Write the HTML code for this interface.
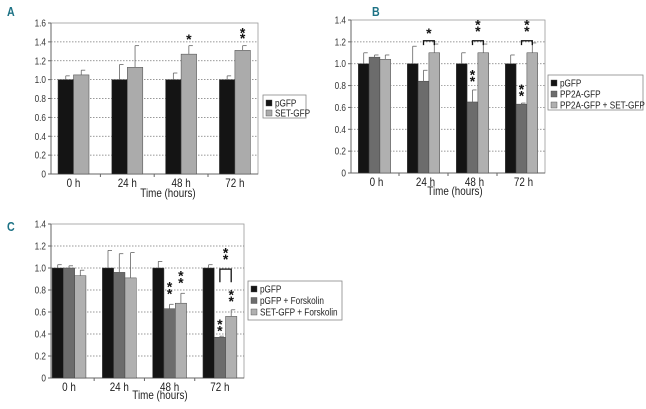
<!DOCTYPE html>
<html><head><meta charset="utf-8"><style>
html,body{margin:0;padding:0;background:#fff;}
svg{display:block;font-family:"Liberation Sans",sans-serif;}
</style></head><body>
<svg id="s" width="646" height="409" viewBox="0 0 646 409"></svg>
<script>
const categories=["0 h","24 h","48 h","72 h"];
// Panel A
const aPGFP=[1.0,1.0,1.0,1.0], aPGFPErr=[1.04,1.16,1.07,1.04];
const aSET=[1.05,1.13,1.27,1.31], aSETErr=[1.10,1.36,1.36,1.36];
const aTicks=[0,0.2,0.4,0.6,0.8,1.0,1.2,1.4,1.6];
// Panel B
const bPGFP=[1,1,1,1], bPGFPErr=[1.10,1.16,1.10,1.08];
const bPP2A=[1.06,0.84,0.65,0.63], bPP2AErr=[1.08,0.94,0.76,0.64];
const bCombo=[1.04,1.10,1.10,1.10], bComboErr=[1.08,1.18,1.18,1.19];
const bTicks=[0,0.2,0.4,0.6,0.8,1.0,1.2,1.4];
// Panel C
const cPGFP=[1,1,1,1], cPGFPErr=[1.03,1.16,1.06,1.03];
const cPF=[1.0,0.96,0.63,0.37], cPFErr=[1.02,1.13,0.67,0.38];
const cSF=[0.93,0.91,0.68,0.56], cSFErr=[0.98,1.14,0.77,0.62];
const cTicks=[0,0.2,0.4,0.6,0.8,1.0,1.2,1.4];

const NS="http://www.w3.org/2000/svg", S=document.getElementById('s');
function el(t,a,p){const e=document.createElementNS(NS,t);for(const k in a)e.setAttribute(k,a[k]);(p||S).appendChild(e);return e;}
function txt(x,y,s,a,p){const e=el('text',Object.assign({x:x,y:y},a),p);e.textContent=s;return e;}

function panel(cfg){
  const g=el('g',{});
  
  
  const y=v=>cfg.y0-(v/cfg.max)*(cfg.y0-cfg.yTop);
  const cx=i=>cfg.c0+i*cfg.step;
  el('rect',{x:cfg.left,y:cfg.yTop,width:cfg.right-cfg.left,height:cfg.y0-cfg.yTop,fill:'#fff',stroke:'#999','stroke-width':0.8},g);
  cfg.ticks.forEach(t=>{
    if(t>0&&t<cfg.max){const l=el('line',{x1:cfg.left,x2:cfg.right,y1:y(t),y2:y(t),stroke:'#777','stroke-width':0.7,'stroke-dasharray':'1.5,1.5'},g);
      }
    el('line',{x1:cfg.left-3,x2:cfg.left,y1:y(t),y2:y(t),stroke:'#666'},g);
    const tl=txt(cfg.left-5,y(t)+3.5,t===0?'0':t.toFixed(1),{'font-size':10,'text-anchor':'end',fill:'#333','class':'cond'},g);
    
  });
  el('line',{x1:cfg.left,x2:cfg.left,y1:cfg.yTop,y2:cfg.y0,stroke:'#666'},g);
  el('line',{x1:cfg.left,x2:cfg.right,y1:cfg.y0,y2:cfg.y0,stroke:'#666'},g);
  const n=cfg.series.length, bw=cfg.bw;
  categories.forEach((c,i)=>{
    const xl=txt(cx(i)+(cfg.labShift||0),cfg.y0+13,c,{'font-size':12,'text-anchor':'middle',fill:'#222','class':'cond'},g);
    
    if(i>0){el('line',{x1:cx(i)-cfg.step/2,x2:cx(i)-cfg.step/2,y1:cfg.y0,y2:cfg.y0+3,stroke:'#666'},g);}
    cfg.series.forEach((s,k)=>{
      const x=cx(i)-n*bw/2+k*bw;
      const r=el('rect',{x:x,y:y(s.v[i]),width:bw,height:cfg.y0-y(s.v[i]),fill:s.c,stroke:'#444','stroke-width':0.5},g);
      
      el('line',{x1:x+bw/2,x2:x+bw/2,y1:y(s.v[i]),y2:y(s.e[i]),stroke:'#666','stroke-width':0.8},g);
      el('line',{x1:x+bw/2,x2:x+bw/2+4,y1:y(s.e[i]),y2:y(s.e[i]),stroke:'#666','stroke-width':0.8},g);
    });
  });
  (cfg.stars||[]).forEach(a=>{
    const x=cx(a[0])-n*bw/2+a[1]*bw+bw/2;
    a[2].forEach(v=>{const st=txt(x,y(v)+5,'*',{'font-size':14,'text-anchor':'middle',fill:'#111','font-weight':'bold'},g);
      });
  });
  (cfg.brackets||[]).forEach(b=>{
    const x1=cx(b[0])-n*bw/2+b[1]*bw+bw/2, x2=cx(b[0])-n*bw/2+b[2]*bw+bw/2;
    const p=el('path',{d:`M${x1},${y(b[4])}V${y(b[3])}H${x2}V${y(b[4])}`,fill:'none',stroke:'#111','stroke-width':1.3},g);
    
  });
  const xt=txt(cfg.tx,cfg.ty,'Time (hours)',{'font-size':12,'text-anchor':'middle',fill:'#222','class':'cond'},g);
  
  const L=cfg.leg, lg=el('g',{},g);
  
  el('rect',{x:L[0],y:L[1],width:L[2],height:L[3],fill:'#fff',stroke:'#888','stroke-width':0.8},lg);
  cfg.series.forEach((s,k)=>{
    const yy=L[1]+5+k*L[4];
    el('rect',{x:L[0]+3,y:yy,width:6,height:6,fill:s.c,stroke:'#444','stroke-width':0.4},lg);
    const t=txt(L[0]+12,yy+6.5,s.label,{'font-size':10,fill:'#222','class':'cond'},lg);
    
  });
  const pl=txt(cfg.pl[0],cfg.pl[1],cfg.letter,{'font-size':13,'font-weight':'bold',fill:'#1d7285','class':'cond'},g);
  
}
const K='#141414', D='#6c6c6c', Lg='#b0b0b0';
panel({name:'panel-a',letter:'A',pl:[7,16],left:51,right:258,yTop:23,y0:174,max:1.6,ticks:aTicks,c0:73.5,step:53.8,bw:15.5,
  series:[{key:'pgfp',v:aPGFP,e:aPGFPErr,c:K,label:'pGFP'},{key:'set-gfp',v:aSET,e:aSETErr,c:'#ababab',label:'SET-GFP'}],
  stars:[[2,1,[1.43]],[3,1,[1.44,1.50]]],tx:168,ty:197,leg:[263,95,43,23,10]});
panel({name:'panel-b',letter:'B',pl:[372,16],left:351,right:545,yTop:20,y0:173,max:1.4,ticks:bTicks,c0:374.5,step:49,bw:10.8,labShift:2,
  series:[{key:'pgfp',v:bPGFP,e:bPGFPErr,c:K,label:'pGFP'},{key:'pp2a-gfp',v:bPP2A,e:bPP2AErr,c:D,label:'PP2A-GFP'},{key:'pp2a-set',v:bCombo,e:bComboErr,c:Lg,label:'PP2A-GFP + SET-GFP'}],
  stars:[[1,1.5,[1.28]],[2,1.5,[1.30,1.36]],[3,1.5,[1.30,1.36]],[2,1,[0.84,0.90]],[3,1,[0.71,0.77]]],
  brackets:[[1,1,2,1.21,1.17],[2,1,2,1.21,1.17],[3,1,2,1.21,1.17]],tx:455,ty:195,leg:[548,75,95,35,11]});
panel({name:'panel-c',letter:'C',pl:[7,231],left:51,right:244,yTop:224,y0:378,max:1.4,ticks:cTicks,c0:69,step:50.3,bw:11.3,
  series:[{key:'pgfp',v:cPGFP,e:cPGFPErr,c:K,label:'pGFP'},{key:'pgfp-forskolin',v:cPF,e:cPFErr,c:D,label:'pGFP + Forskolin'},{key:'set-forskolin',v:cSF,e:cSFErr,c:Lg,label:'SET-GFP + Forskolin'}],
  stars:[[2,1,[0.77,0.83]],[2,2,[0.87,0.93]],[3,1,[0.43,0.49]],[3,2,[0.70,0.76]],[3,1.5,[1.08,1.14]]],
  brackets:[[3,1,2,0.99,0.87]],tx:160,ty:399,leg:[248,281,94,39,11.5]});
// condense text horizontally to mimic narrow font
document.querySelectorAll('text.cond').forEach(t=>{
  const w=t.getComputedTextLength();
  if(w>0){t.setAttribute('textLength',(w*0.82).toFixed(1));t.setAttribute('lengthAdjust','spacingAndGlyphs');}
});
</script>
</body></html>
